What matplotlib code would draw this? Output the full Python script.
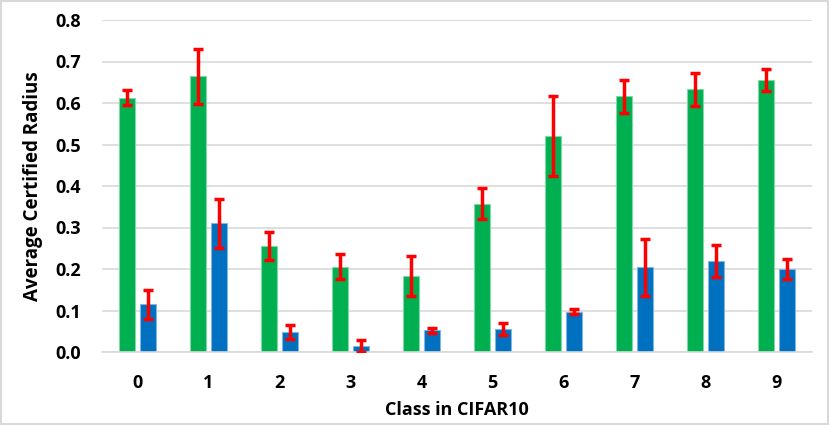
import matplotlib.pyplot as plt
import numpy as np
from matplotlib.patches import Rectangle

plt.rcParams['font.family'] = ['Open Sans', 'DejaVu Sans']

classes = ['0', '1', '2', '3', '4', '5', '6', '7', '8', '9']
# green series and its error
green = [0.613, 0.664, 0.256, 0.205, 0.184, 0.357, 0.521, 0.616, 0.633, 0.655]
green_err = [0.019, 0.066, 0.034, 0.030, 0.048, 0.037, 0.097, 0.039, 0.040, 0.026]
# blue series and its error
blue = [0.115, 0.310, 0.049, 0.014, 0.052, 0.056, 0.097, 0.204, 0.219, 0.199]
blue_err = [0.035, 0.059, 0.017, 0.014, 0.006, 0.015, 0.006, 0.068, 0.039, 0.024]

fig = plt.figure(figsize=(8.3, 4.25), dpi=100)
ax = fig.add_axes([102/830, 73/425, 710/830, 332/425])

x = np.arange(len(classes))
w = 0.225
off = 0.145
ax.bar(x - off, green, w, color='#00B050', edgecolor='#7fd8a7', linewidth=0.8, zorder=2)
ax.bar(x + off, blue, w, color='#0070C0', edgecolor='#7fb7e0', linewidth=0.8, zorder=2)
ax.errorbar(x - off, green, yerr=green_err, fmt='none', ecolor='#FF0000',
            elinewidth=2.5, capsize=3.5, capthick=2.5, zorder=3)
ax.errorbar(x + off, blue, yerr=blue_err, fmt='none', ecolor='#FF0000',
            elinewidth=2.5, capsize=3.5, capthick=2.5, zorder=3)

ax.set_xlim(-0.5, 9.5)
ax.set_ylim(0, 0.8)
ax.set_yticks(np.arange(0, 0.81, 0.1))
ax.set_yticklabels(['%.1f' % v for v in np.arange(0, 0.81, 0.1)])
ax.set_xticks(x)
ax.set_xticklabels(classes)
ax.grid(axis='y', color='#D9D9D9', linewidth=1.2, zorder=0)
ax.set_axisbelow(True)
for s in ['top', 'right', 'left']:
    ax.spines[s].set_visible(False)
ax.spines['bottom'].set_color('#D9D9D9')
ax.spines['bottom'].set_linewidth(1.2)
ax.tick_params(axis='both', length=0, labelsize=13)
ax.tick_params(axis='y', pad=15)
ax.tick_params(axis='x', pad=16)
for lab in ax.get_xticklabels() + ax.get_yticklabels():
    lab.set_fontweight('bold')

ax.set_ylabel('Average Certified Radius', fontsize=13.5, fontweight='bold', labelpad=9)
ax.set_xlabel('Class in CIFAR10', fontsize=13, fontweight='bold', labelpad=6)

fig.patches.append(Rectangle((0.001, 0.002), 0.997, 0.996, transform=fig.transFigure,
                             fill=False, edgecolor='#D9D9D9', linewidth=1.5))

fig.savefig('out.png', dpi=100)
